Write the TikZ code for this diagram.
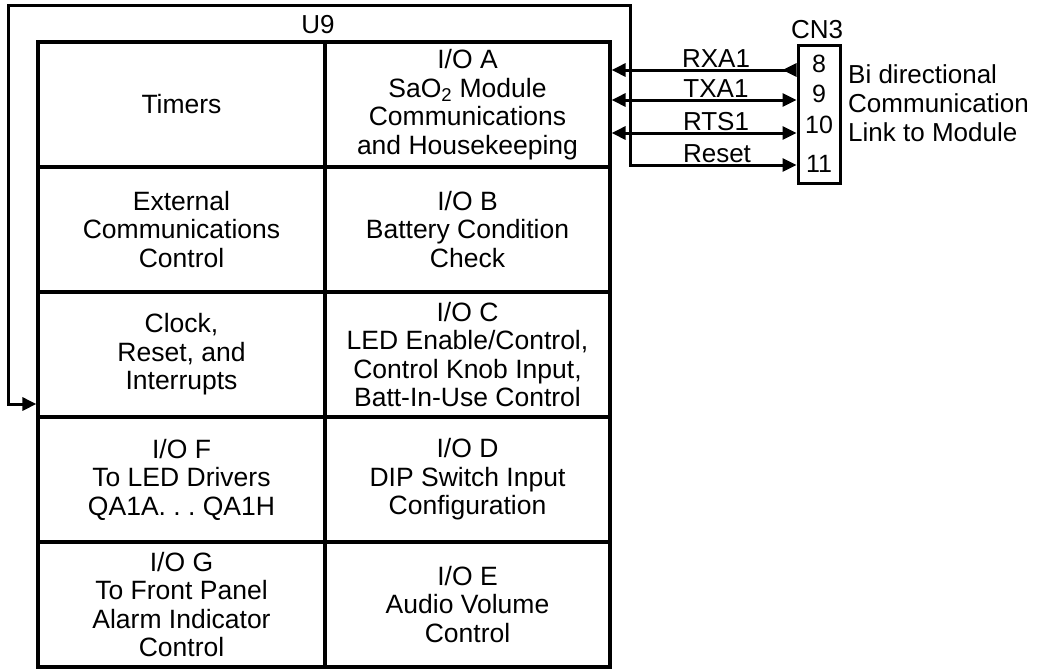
\documentclass[tikz,border=0pt]{standalone}
\usepackage{fontspec}
\setmainfont{Liberation Sans}
\usetikzlibrary{arrows.meta}
\begin{document}
\begin{tikzpicture}[x=1pt,y=-1pt,
  cell/.style={draw,line width=3.2pt,minimum width=#1,minimum height=125pt,
    align=center,inner sep=0pt,font=\fontsize{26.5}{28.5}\selectfont},
  lbl/.style={inner sep=0pt,anchor=base,font=\fontsize{26}{28}\selectfont},
  pin/.style={inner sep=0pt,anchor=base,font=\fontsize{25}{27}\selectfont},
  wire/.style={line width=3pt}
]
\useasboundingbox (0,0) rectangle (1043,670);

% cells of U9
\node[cell=287pt] (timers) at (181.5,104.5) {Timers};
\node[cell=285pt] (ioa) at (467.5,104.5) {I/O A\\SaO\textsubscript{2} Module\\Communications\\and Housekeeping};
\node[cell=287pt] (ext) at (181.5,229.5) {External\\Communications\\Control};
\node[cell=285pt] (iob) at (467.5,229.5) {I/O B\\Battery Condition\\Check};
\node[cell=287pt] (clock) at (181.5,354.5) {Clock,\\Reset, and\\Interrupts};
\node[cell=285pt] (ioc) at (467.5,354.5) {I/O C\\LED Enable/Control,\\Control Knob Input,\\Batt-In-Use Control};
\node[cell=287pt] (iof) at (181.5,479.5) {I/O F\\To LED Drivers\\QA1A.\ .\ .\ QA1H};
\node[cell=285pt] (iod) at (467.5,479.5) {I/O D\\DIP Switch Input\\Configuration};
\node[cell=287pt] (iog) at (181.5,604.5) {I/O G\\To Front Panel\\Alarm Indicator\\Control};
\node[cell=285pt] (ioe) at (467.5,604.5) {I/O E\\Audio Volume\\Control};

\node[lbl] (u9) at (318,33) {U9};

% connector CN3
\node[draw,line width=3pt,minimum width=42pt,minimum height=138pt,inner sep=0pt] (cn) at (819,114) {};
\node[lbl] (cn3) at (817,38) {CN3};
\node[pin] (p8) at (819,72) {8};
\node[pin] (p9) at (819,102) {9};
\node[pin] (p10) at (819,133) {10};
\node[pin] (p11) at (819,172) {11};
\node[inner sep=0pt,anchor=north west,align=left,font=\fontsize{26}{29}\selectfont] (desc) at (848,64)
  {Bi directional\\Communication\\Link to Module};

% wire end points
\coordinate (a8) at (ioa.east |- 0,70);
\coordinate (a9) at (ioa.east |- 0,100);
\coordinate (a10) at (ioa.east |- 0,133);
\coordinate (c8) at (cn.west |- 0,70);
\coordinate (c9) at (cn.west |- 0,100);
\coordinate (c10) at (cn.west |- 0,133);
\coordinate (c11) at (cn.west |- 0,165);
\coordinate (k1) at (630,165);
\coordinate (k2) at (630,5);
\coordinate (k3) at (8,5);
\coordinate (k4) at (8,404);
\coordinate (b4) at (clock.west |- 0,404);

\draw[wire,{Triangle[length=14pt,width=13pt,reversed]}-{Triangle[length=14pt,width=13pt]}] (c8) -- (a8);
\draw[wire,{Triangle[length=14pt,width=13pt]}-{Triangle[length=14pt,width=13pt]}] (a9) -- (c9);
\draw[wire,{Triangle[length=14pt,width=13pt]}-{Triangle[length=14pt,width=13pt]}] (a10) -- (c10);
\draw[wire,{Triangle[length=14pt,width=13pt]}-{Triangle[length=14pt,width=13pt]}] (b4) -- (k4) -- (k3) -- (k2) -- (k1) -- (c11);

\node[lbl] (l8) at (716,67) {RXA1};
\node[lbl] (l9) at (716,97) {TXA1};
\node[lbl] (l10) at (716,130) {RTS1};
\node[lbl] (l11) at (717,162) {Reset};
\end{tikzpicture}
\end{document}
